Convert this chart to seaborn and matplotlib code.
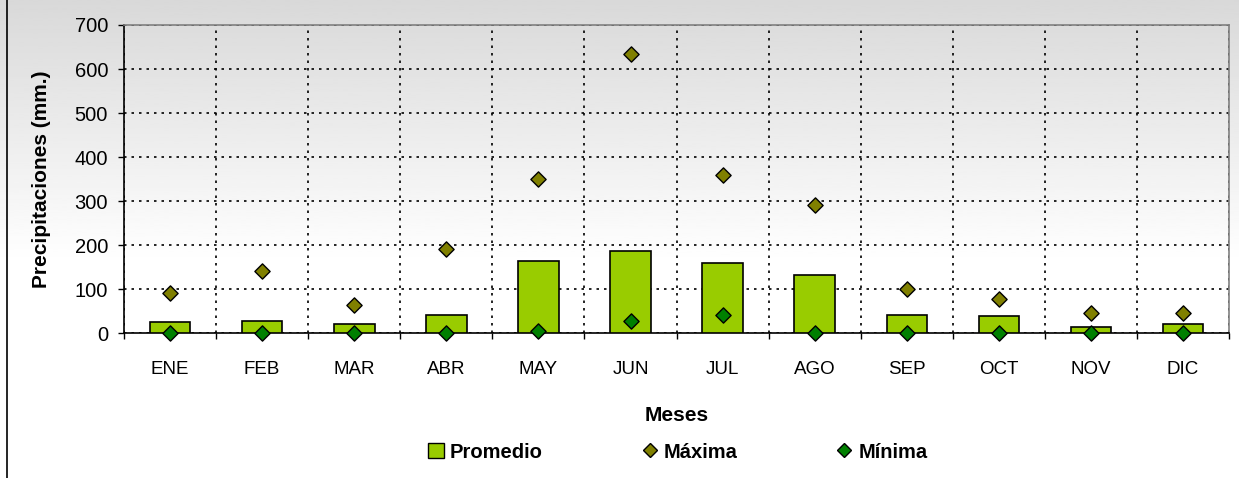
import numpy as np
import pandas as pd
import matplotlib
matplotlib.use("Agg")
import matplotlib.pyplot as plt
import seaborn as sns
from matplotlib.lines import Line2D
from matplotlib.patches import Patch

# monthly precipitation (mm)
meses = ["ENE", "FEB", "MAR", "ABR", "MAY", "JUN", "JUL", "AGO", "SEP", "OCT", "NOV", "DIC"]
promedio = [24, 28, 20, 42, 164, 187, 160, 132, 42, 38, 14, 20]
maxima = [91, 141, 64, 191, 350, 633, 360, 292, 101, 78, 45, 45]
minima = [0, 0, 0, 0, 5, 28, 42, 0, 0, 0, 0, 0]

df = pd.DataFrame({"Mes": meses, "Promedio": promedio, "Maxima": maxima, "Minima": minima})

sns.set_style("white")
plt.rcParams["font.family"] = ["Liberation Sans", "DejaVu Sans"]
plt.rcParams["text.color"] = "black"
plt.rcParams["axes.labelcolor"] = "black"
plt.rcParams["xtick.color"] = "black"
plt.rcParams["ytick.color"] = "black"

fig = plt.figure(figsize=(12.39, 4.78), dpi=100)

# grey gradient background at the top of the figure
bg = fig.add_axes([0, 0, 1, 1], zorder=-10)
grad = np.linspace(0, 1, 256)
shade = np.clip(0.85 + 0.15 * (grad / 0.55), 0.85, 1.0)
bg.imshow(shade[:, None], cmap="gray", vmin=0, vmax=1, aspect="auto",
          extent=[0, 1, 0, 1], origin="upper")
bg.set_xlim(0, 1)
bg.set_ylim(0, 1)
bg.axis("off")
bg.plot([0.0057, 0.0057], [0, 1], color="black", lw=1.2)

ax = fig.add_axes([0.1001, 0.3033, 0.8919, 0.6444])
ax.patch.set_alpha(0)

sns.barplot(data=df, x="Mes", y="Promedio", color="#99CC00", edgecolor="black",
            linewidth=1.2, width=0.44, saturation=1, ax=ax, zorder=3)
sns.scatterplot(data=df, x="Mes", y="Maxima", marker="D", s=60, color="#808000",
                edgecolor="black", linewidth=1, ax=ax, zorder=5)
sns.scatterplot(data=df, x="Mes", y="Minima", marker="D", s=60, color="#008000",
                edgecolor="black", linewidth=1, ax=ax, zorder=5, clip_on=False)

ax.set_xlim(-0.5, len(meses) - 0.5)
ax.set_ylim(0, 700)
ax.set_yticks(range(0, 701, 100))
ax.set_xticks(np.arange(-0.5, len(meses), 1), minor=True)
ax.grid(axis="y", which="major", color="black", linestyle=(0, (1.5, 3)), lw=1.2)
ax.grid(axis="x", which="minor", color="black", linestyle=(0, (1.5, 3)), lw=1.2)
ax.grid(axis="x", which="major", visible=False)
ax.set_axisbelow(True)

ax.tick_params(axis="x", which="major", length=0, labelsize=13.5, pad=20)
ax.tick_params(axis="x", which="minor", length=4.5, width=1, direction="out", color="black")
ax.tick_params(axis="y", length=4.5, width=1, direction="out", color="black", labelsize=14.5, pad=7)
ax.xaxis.set_tick_params(which="both", bottom=True)
ax.yaxis.set_tick_params(left=True)

for side in ["left", "bottom"]:
    ax.spines[side].set_color("black")
    ax.spines[side].set_linewidth(1.2)
for side in ["top", "right"]:
    ax.spines[side].set_color("#808080")
    ax.spines[side].set_linewidth(1.2)

ax.set_ylabel("Precipitaciones (mm.)", fontsize=15, fontweight="bold", labelpad=17)
ax.set_xlabel("Meses", fontsize=15, fontweight="bold", labelpad=20)

handles = [
    Patch(facecolor="#99CC00", edgecolor="black", linewidth=1),
    Line2D([], [], marker="D", linestyle="none", markerfacecolor="#808000",
           markeredgecolor="black", markersize=7),
    Line2D([], [], marker="D", linestyle="none", markerfacecolor="#008000",
           markeredgecolor="black", markersize=7),
]
fig.legend(handles, ["Promedio", "Máxima", "Mínima"], loc="center",
           bbox_to_anchor=(0.547, 0.054), ncol=3, frameon=False,
           prop={"size": 14.5, "weight": "bold"}, columnspacing=4.9,
           handlelength=0.8, handletextpad=0.3, handleheight=0.8)

fig.savefig("out.png", dpi=100)
